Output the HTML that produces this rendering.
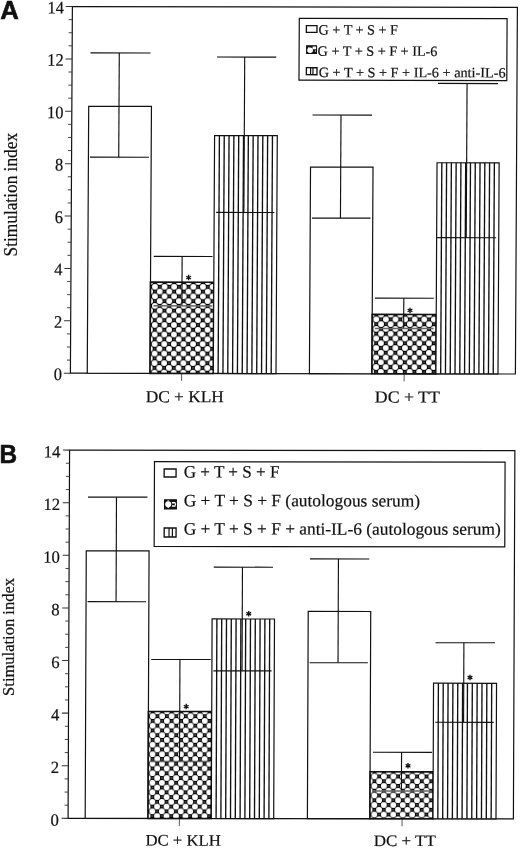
<!DOCTYPE html>
<html><head><meta charset="utf-8"><title>Stimulation index</title>
<style>html,body{margin:0;padding:0;background:#fff;}body{width:520px;height:849px;overflow:hidden;font-family:"Liberation Serif",serif;}svg{display:block;will-change:transform;filter:grayscale(1);}</style></head><body>
<svg width="520" height="849" viewBox="0 0 520 849">
<rect width="520" height="849" fill="#fff"/>
<defs><pattern id="cpA0" patternUnits="userSpaceOnUse" x="149.7" y="281.86" width="9.6" height="9.54"><rect width="9.6" height="9.54" fill="#000"/><circle cx="0" cy="0" r="2.92" fill="#fff"/><circle cx="9.6" cy="0" r="2.92" fill="#fff"/><circle cx="0" cy="9.54" r="2.92" fill="#fff"/><circle cx="9.6" cy="9.54" r="2.92" fill="#fff"/><circle cx="4.8" cy="4.77" r="2.92" fill="#fff"/><rect x="4.3" y="-0.5" width="1" height="1" fill="#e0e0e0"/><rect x="4.3" y="9.04" width="1" height="1" fill="#e0e0e0"/><rect x="-0.5" y="4.27" width="1" height="1" fill="#e0e0e0"/><rect x="9.1" y="4.27" width="1" height="1" fill="#e0e0e0"/></pattern><pattern id="cpA1" patternUnits="userSpaceOnUse" x="371.2" y="314.03" width="9.6" height="9.54"><rect width="9.6" height="9.54" fill="#000"/><circle cx="0" cy="0" r="2.92" fill="#fff"/><circle cx="9.6" cy="0" r="2.92" fill="#fff"/><circle cx="0" cy="9.54" r="2.92" fill="#fff"/><circle cx="9.6" cy="9.54" r="2.92" fill="#fff"/><circle cx="4.8" cy="4.77" r="2.92" fill="#fff"/><rect x="4.3" y="-0.5" width="1" height="1" fill="#e0e0e0"/><rect x="4.3" y="9.04" width="1" height="1" fill="#e0e0e0"/><rect x="-0.5" y="4.27" width="1" height="1" fill="#e0e0e0"/><rect x="9.1" y="4.27" width="1" height="1" fill="#e0e0e0"/></pattern><pattern id="cpB0" patternUnits="userSpaceOnUse" x="147.55" y="711.25" width="9.47" height="9.52"><rect width="9.47" height="9.52" fill="#000"/><circle cx="0" cy="0" r="2.95" fill="#fff"/><circle cx="9.47" cy="0" r="2.95" fill="#fff"/><circle cx="0" cy="9.52" r="2.95" fill="#fff"/><circle cx="9.47" cy="9.52" r="2.95" fill="#fff"/><circle cx="4.74" cy="4.76" r="2.95" fill="#fff"/><rect x="4.24" y="-0.5" width="1" height="1" fill="#e0e0e0"/><rect x="4.24" y="9.02" width="1" height="1" fill="#e0e0e0"/><rect x="-0.5" y="4.26" width="1" height="1" fill="#e0e0e0"/><rect x="8.97" y="4.26" width="1" height="1" fill="#e0e0e0"/></pattern><pattern id="cpB1" patternUnits="userSpaceOnUse" x="369.55" y="771.3" width="9.47" height="9.52"><rect width="9.47" height="9.52" fill="#000"/><circle cx="0" cy="0" r="2.95" fill="#fff"/><circle cx="9.47" cy="0" r="2.95" fill="#fff"/><circle cx="0" cy="9.52" r="2.95" fill="#fff"/><circle cx="9.47" cy="9.52" r="2.95" fill="#fff"/><circle cx="4.74" cy="4.76" r="2.95" fill="#fff"/><rect x="4.24" y="-0.5" width="1" height="1" fill="#e0e0e0"/><rect x="4.24" y="9.02" width="1" height="1" fill="#e0e0e0"/><rect x="-0.5" y="4.26" width="1" height="1" fill="#e0e0e0"/><rect x="8.97" y="4.26" width="1" height="1" fill="#e0e0e0"/></pattern></defs>
<g transform="matrix(1 0.00180 -0.00540 1 2.02 -0.13)">
<rect x="70.4" y="6.55" width="445" height="366.65" fill="none" stroke="#111" stroke-width="1.2"/>
<line x1="63.8" y1="373.2" x2="70.4" y2="373.2" stroke="#333" stroke-width="1.05"/>
<text x="62" y="380.1" font-family="'Liberation Serif', serif" font-size="17.6" font-weight="normal" text-anchor="end" fill="#111" textLength="8.18" lengthAdjust="spacingAndGlyphs" stroke="#111" stroke-width="0.2">0</text>
<line x1="66.8" y1="360.11" x2="70.4" y2="360.11" stroke="#3a3a3a" stroke-width="0.95"/>
<line x1="66.8" y1="347.01" x2="70.4" y2="347.01" stroke="#3a3a3a" stroke-width="0.95"/>
<line x1="66.8" y1="333.92" x2="70.4" y2="333.92" stroke="#3a3a3a" stroke-width="0.95"/>
<line x1="63.8" y1="320.82" x2="70.4" y2="320.82" stroke="#333" stroke-width="1.05"/>
<text x="62" y="327.72" font-family="'Liberation Serif', serif" font-size="17.6" font-weight="normal" text-anchor="end" fill="#111" textLength="8.18" lengthAdjust="spacingAndGlyphs" stroke="#111" stroke-width="0.2">2</text>
<line x1="66.8" y1="307.73" x2="70.4" y2="307.73" stroke="#3a3a3a" stroke-width="0.95"/>
<line x1="66.8" y1="294.63" x2="70.4" y2="294.63" stroke="#3a3a3a" stroke-width="0.95"/>
<line x1="66.8" y1="281.54" x2="70.4" y2="281.54" stroke="#3a3a3a" stroke-width="0.95"/>
<line x1="63.8" y1="268.44" x2="70.4" y2="268.44" stroke="#333" stroke-width="1.05"/>
<text x="62" y="275.34" font-family="'Liberation Serif', serif" font-size="17.6" font-weight="normal" text-anchor="end" fill="#111" textLength="8.18" lengthAdjust="spacingAndGlyphs" stroke="#111" stroke-width="0.2">4</text>
<line x1="66.8" y1="255.35" x2="70.4" y2="255.35" stroke="#3a3a3a" stroke-width="0.95"/>
<line x1="66.8" y1="242.25" x2="70.4" y2="242.25" stroke="#3a3a3a" stroke-width="0.95"/>
<line x1="66.8" y1="229.16" x2="70.4" y2="229.16" stroke="#3a3a3a" stroke-width="0.95"/>
<line x1="63.8" y1="216.06" x2="70.4" y2="216.06" stroke="#333" stroke-width="1.05"/>
<text x="62" y="222.96" font-family="'Liberation Serif', serif" font-size="17.6" font-weight="normal" text-anchor="end" fill="#111" textLength="8.18" lengthAdjust="spacingAndGlyphs" stroke="#111" stroke-width="0.2">6</text>
<line x1="66.8" y1="202.97" x2="70.4" y2="202.97" stroke="#3a3a3a" stroke-width="0.95"/>
<line x1="66.8" y1="189.88" x2="70.4" y2="189.88" stroke="#3a3a3a" stroke-width="0.95"/>
<line x1="66.8" y1="176.78" x2="70.4" y2="176.78" stroke="#3a3a3a" stroke-width="0.95"/>
<line x1="63.8" y1="163.69" x2="70.4" y2="163.69" stroke="#333" stroke-width="1.05"/>
<text x="62" y="170.59" font-family="'Liberation Serif', serif" font-size="17.6" font-weight="normal" text-anchor="end" fill="#111" textLength="8.18" lengthAdjust="spacingAndGlyphs" stroke="#111" stroke-width="0.2">8</text>
<line x1="66.8" y1="150.59" x2="70.4" y2="150.59" stroke="#3a3a3a" stroke-width="0.95"/>
<line x1="66.8" y1="137.5" x2="70.4" y2="137.5" stroke="#3a3a3a" stroke-width="0.95"/>
<line x1="66.8" y1="124.4" x2="70.4" y2="124.4" stroke="#3a3a3a" stroke-width="0.95"/>
<line x1="63.8" y1="111.31" x2="70.4" y2="111.31" stroke="#333" stroke-width="1.05"/>
<text x="62" y="118.21" font-family="'Liberation Serif', serif" font-size="17.6" font-weight="normal" text-anchor="end" fill="#111" textLength="16.37" lengthAdjust="spacingAndGlyphs" stroke="#111" stroke-width="0.2">10</text>
<line x1="66.8" y1="98.21" x2="70.4" y2="98.21" stroke="#3a3a3a" stroke-width="0.95"/>
<line x1="66.8" y1="85.12" x2="70.4" y2="85.12" stroke="#3a3a3a" stroke-width="0.95"/>
<line x1="66.8" y1="72.02" x2="70.4" y2="72.02" stroke="#3a3a3a" stroke-width="0.95"/>
<line x1="63.8" y1="58.93" x2="70.4" y2="58.93" stroke="#333" stroke-width="1.05"/>
<text x="62" y="65.83" font-family="'Liberation Serif', serif" font-size="17.6" font-weight="normal" text-anchor="end" fill="#111" textLength="16.37" lengthAdjust="spacingAndGlyphs" stroke="#111" stroke-width="0.2">12</text>
<line x1="66.8" y1="45.83" x2="70.4" y2="45.83" stroke="#3a3a3a" stroke-width="0.95"/>
<line x1="66.8" y1="32.74" x2="70.4" y2="32.74" stroke="#3a3a3a" stroke-width="0.95"/>
<line x1="66.8" y1="19.64" x2="70.4" y2="19.64" stroke="#3a3a3a" stroke-width="0.95"/>
<line x1="63.8" y1="6.55" x2="70.4" y2="6.55" stroke="#333" stroke-width="1.05"/>
<text x="62" y="13.45" font-family="'Liberation Serif', serif" font-size="17.6" font-weight="normal" text-anchor="end" fill="#111" textLength="16.37" lengthAdjust="spacingAndGlyphs" stroke="#111" stroke-width="0.2">14</text>
<line x1="181.65" y1="373.2" x2="181.65" y2="380.7" stroke="#444" stroke-width="0.9"/>
<text x="145.91" y="402.06" font-family="'Liberation Serif', serif" font-size="16.8" font-weight="normal" text-anchor="start" fill="#111" textLength="78" lengthAdjust="spacingAndGlyphs" stroke="#111" stroke-width="0.2">DC + KLH</text>
<rect x="87.25" y="106.33" width="62.75" height="266.87" fill="#fff" stroke="#111" stroke-width="1.2"/>
<line x1="117.55" y1="52.91" x2="117.55" y2="157.14" stroke="#111" stroke-width="1.15"/>
<line x1="88.8" y1="52.91" x2="148.8" y2="52.91" stroke="#111" stroke-width="1.15"/>
<line x1="88.8" y1="157.14" x2="147.8" y2="157.14" stroke="#111" stroke-width="1.15"/>
<rect x="150" y="281.96" width="63.3" height="91.24" fill="url(#cpA0)" stroke="#111" stroke-width="1.6"/>
<line x1="181.5" y1="256.21" x2="181.5" y2="305.71" stroke="#111" stroke-width="1.15"/>
<line x1="153.12" y1="256.21" x2="211.88" y2="256.21" stroke="#111" stroke-width="1.15"/>
<line x1="153.12" y1="305.71" x2="211.88" y2="305.71" stroke="#666" stroke-width="1.5"/>
<line x1="188.08" y1="274.64" x2="188.08" y2="280.14" stroke="#111" stroke-width="1.35"/><line x1="190.47" y1="276.01" x2="185.7" y2="278.76" stroke="#111" stroke-width="1.35"/><line x1="190.47" y1="278.76" x2="185.7" y2="276.01" stroke="#111" stroke-width="1.35"/>
<rect x="213.3" y="135.3" width="62.7" height="237.9" fill="#fff" stroke="#111" stroke-width="1.2"/>
<line x1="218.12" y1="135.3" x2="218.12" y2="373.2" stroke="#111" stroke-width="1.35"/>
<line x1="222.95" y1="135.3" x2="222.95" y2="373.2" stroke="#111" stroke-width="1.35"/>
<line x1="227.77" y1="135.3" x2="227.77" y2="373.2" stroke="#111" stroke-width="1.35"/>
<line x1="232.59" y1="135.3" x2="232.59" y2="373.2" stroke="#111" stroke-width="1.35"/>
<line x1="237.42" y1="135.3" x2="237.42" y2="373.2" stroke="#111" stroke-width="1.35"/>
<line x1="242.24" y1="135.3" x2="242.24" y2="373.2" stroke="#111" stroke-width="1.35"/>
<line x1="247.06" y1="135.3" x2="247.06" y2="373.2" stroke="#111" stroke-width="1.35"/>
<line x1="251.88" y1="135.3" x2="251.88" y2="373.2" stroke="#111" stroke-width="1.35"/>
<line x1="256.71" y1="135.3" x2="256.71" y2="373.2" stroke="#111" stroke-width="1.35"/>
<line x1="261.53" y1="135.3" x2="261.53" y2="373.2" stroke="#111" stroke-width="1.35"/>
<line x1="266.35" y1="135.3" x2="266.35" y2="373.2" stroke="#111" stroke-width="1.35"/>
<line x1="271.18" y1="135.3" x2="271.18" y2="373.2" stroke="#111" stroke-width="1.35"/>
<line x1="243" y1="56.75" x2="243" y2="212.14" stroke="#111" stroke-width="1.15"/>
<line x1="215.28" y1="56.75" x2="274.52" y2="56.75" stroke="#111" stroke-width="1.15"/>
<line x1="215.28" y1="212.14" x2="273.52" y2="212.14" stroke="#111" stroke-width="1.15"/>
<line x1="404.15" y1="373.2" x2="404.15" y2="380.7" stroke="#444" stroke-width="0.9"/>
<text x="374.96" y="401.85" font-family="'Liberation Serif', serif" font-size="16.8" font-weight="normal" text-anchor="start" fill="#111" textLength="65" lengthAdjust="spacingAndGlyphs" stroke="#111" stroke-width="0.2">DC + TT</text>
<rect x="309.4" y="166.62" width="62.5" height="206.58" fill="#fff" stroke="#111" stroke-width="1.2"/>
<line x1="339.6" y1="114.61" x2="339.6" y2="217.64" stroke="#111" stroke-width="1.15"/>
<line x1="311.1" y1="114.61" x2="370.6" y2="114.61" stroke="#111" stroke-width="1.15"/>
<line x1="311.1" y1="217.64" x2="369.6" y2="217.64" stroke="#111" stroke-width="1.15"/>
<rect x="371.9" y="313.83" width="64" height="59.37" fill="url(#cpA1)" stroke="#111" stroke-width="1.6"/>
<line x1="403.4" y1="297.57" x2="403.4" y2="327.84" stroke="#111" stroke-width="1.15"/>
<line x1="374.62" y1="297.57" x2="433.38" y2="297.57" stroke="#111" stroke-width="1.15"/>
<line x1="374.62" y1="327.84" x2="433.38" y2="327.84" stroke="#666" stroke-width="1.5"/>
<line x1="409.66" y1="307.04" x2="409.66" y2="312.54" stroke="#111" stroke-width="1.35"/><line x1="412.04" y1="308.41" x2="407.28" y2="311.16" stroke="#111" stroke-width="1.35"/><line x1="412.04" y1="311.16" x2="407.28" y2="308.41" stroke="#111" stroke-width="1.35"/>
<rect x="435.9" y="162.11" width="62.1" height="211.09" fill="#fff" stroke="#111" stroke-width="1.2"/>
<line x1="440.68" y1="162.11" x2="440.68" y2="373.2" stroke="#111" stroke-width="1.35"/>
<line x1="445.45" y1="162.11" x2="445.45" y2="373.2" stroke="#111" stroke-width="1.35"/>
<line x1="450.23" y1="162.11" x2="450.23" y2="373.2" stroke="#111" stroke-width="1.35"/>
<line x1="455.01" y1="162.11" x2="455.01" y2="373.2" stroke="#111" stroke-width="1.35"/>
<line x1="459.78" y1="162.11" x2="459.78" y2="373.2" stroke="#111" stroke-width="1.35"/>
<line x1="464.56" y1="162.11" x2="464.56" y2="373.2" stroke="#111" stroke-width="1.35"/>
<line x1="469.34" y1="162.11" x2="469.34" y2="373.2" stroke="#111" stroke-width="1.35"/>
<line x1="474.12" y1="162.11" x2="474.12" y2="373.2" stroke="#111" stroke-width="1.35"/>
<line x1="478.89" y1="162.11" x2="478.89" y2="373.2" stroke="#111" stroke-width="1.35"/>
<line x1="483.67" y1="162.11" x2="483.67" y2="373.2" stroke="#111" stroke-width="1.35"/>
<line x1="488.45" y1="162.11" x2="488.45" y2="373.2" stroke="#111" stroke-width="1.35"/>
<line x1="493.22" y1="162.11" x2="493.22" y2="373.2" stroke="#111" stroke-width="1.35"/>
<line x1="465.5" y1="82.79" x2="465.5" y2="236.94" stroke="#111" stroke-width="1.15"/>
<line x1="436.4" y1="82.79" x2="496.4" y2="82.79" stroke="#111" stroke-width="1.15"/>
<line x1="436.4" y1="236.94" x2="495.4" y2="236.94" stroke="#111" stroke-width="1.15"/>
<rect x="297.38" y="17.89" width="207.8" height="61.9" fill="#fff" stroke="#111" stroke-width="1.2"/>
<rect x="304.52" y="25.18" width="10.6" height="6.8" fill="#fff" stroke="#111" stroke-width="1.35"/>
<text x="316.77" y="33.95" font-family="'Liberation Serif', serif" font-size="14.2" font-weight="normal" text-anchor="start" fill="#111" textLength="79.3" lengthAdjust="spacingAndGlyphs" stroke="#111" stroke-width="0.2">G + T + S + F</text>
<rect x="304.83" y="45.37" width="10" height="7.6" fill="#111" stroke="#111" stroke-width="1"/>
<ellipse cx="308.33" cy="49.93" rx="2.9" ry="2.75" fill="#fff"/>
<rect x="310.83" y="46.07" width="3.4" height="2.7" fill="#fff"/>
<rect x="313.13" y="49.78" width="0.8" height="1.7" fill="#ddd"/>
<rect x="306.53" y="46.67" width="1" height="0.9" fill="#ddd"/>
<text x="315.89" y="55.26" font-family="'Liberation Serif', serif" font-size="14.2" font-weight="normal" text-anchor="start" fill="#111" stroke="#111" stroke-width="0.2">G + T + S + F + IL-6</text>
<rect x="304.75" y="67.28" width="10.6" height="7" fill="#fff" stroke="#111" stroke-width="1.35"/>
<line x1="308.99" y1="67.28" x2="308.99" y2="74.28" stroke="#111" stroke-width="1.2"/>
<line x1="311.32" y1="67.28" x2="311.32" y2="74.28" stroke="#111" stroke-width="1.2"/>
<text x="317.15" y="76.65" font-family="'Liberation Serif', serif" font-size="14.2" font-weight="normal" text-anchor="start" fill="#111" textLength="186.8" lengthAdjust="spacingAndGlyphs" stroke="#111" stroke-width="0.2">G + T + S + F + IL-6 + anti-IL-6</text>
</g>
<text x="0.3" y="18.85" font-family="'Liberation Sans', sans-serif" font-size="25.3" font-weight="bold" text-anchor="start" fill="#111" textLength="18.6" lengthAdjust="spacingAndGlyphs" stroke="#111" stroke-width="0.6" stroke-linejoin="round">A</text>
<text transform="translate(17.3 194.7) rotate(-90)" font-family="'Liberation Serif', serif" font-size="18.6" text-anchor="middle" fill="#111" stroke="#111" stroke-width="0.2" textLength="123.5" lengthAdjust="spacingAndGlyphs">Stimulation index</text>
<g transform="matrix(1 0.00110 -0.00400 1 3.27 -0.07)">
<rect x="68.1" y="450.1" width="445.3" height="368.25" fill="none" stroke="#111" stroke-width="1.2"/>
<line x1="61.5" y1="818.35" x2="68.1" y2="818.35" stroke="#333" stroke-width="1.05"/>
<text x="58.9" y="825.75" font-family="'Liberation Serif', serif" font-size="17.2" font-weight="normal" text-anchor="end" fill="#111" textLength="8.34" lengthAdjust="spacingAndGlyphs" stroke="#111" stroke-width="0.2">0</text>
<line x1="64.5" y1="805.2" x2="68.1" y2="805.2" stroke="#3a3a3a" stroke-width="0.95"/>
<line x1="64.5" y1="792.05" x2="68.1" y2="792.05" stroke="#3a3a3a" stroke-width="0.95"/>
<line x1="64.5" y1="778.89" x2="68.1" y2="778.89" stroke="#3a3a3a" stroke-width="0.95"/>
<line x1="61.5" y1="765.74" x2="68.1" y2="765.74" stroke="#333" stroke-width="1.05"/>
<text x="58.9" y="773.14" font-family="'Liberation Serif', serif" font-size="17.2" font-weight="normal" text-anchor="end" fill="#111" textLength="8.34" lengthAdjust="spacingAndGlyphs" stroke="#111" stroke-width="0.2">2</text>
<line x1="64.5" y1="752.59" x2="68.1" y2="752.59" stroke="#3a3a3a" stroke-width="0.95"/>
<line x1="64.5" y1="739.44" x2="68.1" y2="739.44" stroke="#3a3a3a" stroke-width="0.95"/>
<line x1="64.5" y1="726.29" x2="68.1" y2="726.29" stroke="#3a3a3a" stroke-width="0.95"/>
<line x1="61.5" y1="713.14" x2="68.1" y2="713.14" stroke="#333" stroke-width="1.05"/>
<text x="58.9" y="720.54" font-family="'Liberation Serif', serif" font-size="17.2" font-weight="normal" text-anchor="end" fill="#111" textLength="8.34" lengthAdjust="spacingAndGlyphs" stroke="#111" stroke-width="0.2">4</text>
<line x1="64.5" y1="699.98" x2="68.1" y2="699.98" stroke="#3a3a3a" stroke-width="0.95"/>
<line x1="64.5" y1="686.83" x2="68.1" y2="686.83" stroke="#3a3a3a" stroke-width="0.95"/>
<line x1="64.5" y1="673.68" x2="68.1" y2="673.68" stroke="#3a3a3a" stroke-width="0.95"/>
<line x1="61.5" y1="660.53" x2="68.1" y2="660.53" stroke="#333" stroke-width="1.05"/>
<text x="58.9" y="667.93" font-family="'Liberation Serif', serif" font-size="17.2" font-weight="normal" text-anchor="end" fill="#111" textLength="8.34" lengthAdjust="spacingAndGlyphs" stroke="#111" stroke-width="0.2">6</text>
<line x1="64.5" y1="647.38" x2="68.1" y2="647.38" stroke="#3a3a3a" stroke-width="0.95"/>
<line x1="64.5" y1="634.23" x2="68.1" y2="634.23" stroke="#3a3a3a" stroke-width="0.95"/>
<line x1="64.5" y1="621.07" x2="68.1" y2="621.07" stroke="#3a3a3a" stroke-width="0.95"/>
<line x1="61.5" y1="607.92" x2="68.1" y2="607.92" stroke="#333" stroke-width="1.05"/>
<text x="58.9" y="615.32" font-family="'Liberation Serif', serif" font-size="17.2" font-weight="normal" text-anchor="end" fill="#111" textLength="8.34" lengthAdjust="spacingAndGlyphs" stroke="#111" stroke-width="0.2">8</text>
<line x1="64.5" y1="594.77" x2="68.1" y2="594.77" stroke="#3a3a3a" stroke-width="0.95"/>
<line x1="64.5" y1="581.62" x2="68.1" y2="581.62" stroke="#3a3a3a" stroke-width="0.95"/>
<line x1="64.5" y1="568.47" x2="68.1" y2="568.47" stroke="#3a3a3a" stroke-width="0.95"/>
<line x1="61.5" y1="555.31" x2="68.1" y2="555.31" stroke="#333" stroke-width="1.05"/>
<text x="58.9" y="562.71" font-family="'Liberation Serif', serif" font-size="17.2" font-weight="normal" text-anchor="end" fill="#111" textLength="16.68" lengthAdjust="spacingAndGlyphs" stroke="#111" stroke-width="0.2">10</text>
<line x1="64.5" y1="542.16" x2="68.1" y2="542.16" stroke="#3a3a3a" stroke-width="0.95"/>
<line x1="64.5" y1="529.01" x2="68.1" y2="529.01" stroke="#3a3a3a" stroke-width="0.95"/>
<line x1="64.5" y1="515.86" x2="68.1" y2="515.86" stroke="#3a3a3a" stroke-width="0.95"/>
<line x1="61.5" y1="502.71" x2="68.1" y2="502.71" stroke="#333" stroke-width="1.05"/>
<text x="58.9" y="510.11" font-family="'Liberation Serif', serif" font-size="17.2" font-weight="normal" text-anchor="end" fill="#111" textLength="16.68" lengthAdjust="spacingAndGlyphs" stroke="#111" stroke-width="0.2">12</text>
<line x1="64.5" y1="489.56" x2="68.1" y2="489.56" stroke="#3a3a3a" stroke-width="0.95"/>
<line x1="64.5" y1="476.4" x2="68.1" y2="476.4" stroke="#3a3a3a" stroke-width="0.95"/>
<line x1="64.5" y1="463.25" x2="68.1" y2="463.25" stroke="#3a3a3a" stroke-width="0.95"/>
<line x1="61.5" y1="450.1" x2="68.1" y2="450.1" stroke="#333" stroke-width="1.05"/>
<text x="58.9" y="457.5" font-family="'Liberation Serif', serif" font-size="17.2" font-weight="normal" text-anchor="end" fill="#111" textLength="16.68" lengthAdjust="spacingAndGlyphs" stroke="#111" stroke-width="0.2">14</text>
<line x1="179.42" y1="818.35" x2="179.42" y2="825.85" stroke="#444" stroke-width="0.9"/>
<text x="145.51" y="845.51" font-family="'Liberation Serif', serif" font-size="16" font-weight="normal" text-anchor="start" fill="#111" textLength="75.4" lengthAdjust="spacingAndGlyphs" stroke="#111" stroke-width="0.2">DC + KLH</text>
<rect x="85.2" y="550.87" width="62.8" height="267.48" fill="#fff" stroke="#111" stroke-width="1.2"/>
<line x1="115.2" y1="497.08" x2="115.2" y2="601.66" stroke="#111" stroke-width="1.15"/>
<line x1="86.7" y1="497.08" x2="146.2" y2="497.08" stroke="#111" stroke-width="1.15"/>
<line x1="86.7" y1="601.66" x2="145.2" y2="601.66" stroke="#111" stroke-width="1.15"/>
<rect x="148" y="711.4" width="63.3" height="106.95" fill="url(#cpB0)" stroke="#111" stroke-width="1.6"/>
<line x1="179.3" y1="659.37" x2="179.3" y2="761.43" stroke="#111" stroke-width="1.15"/>
<line x1="150.6" y1="659.37" x2="210.1" y2="659.37" stroke="#111" stroke-width="1.15"/>
<line x1="150.6" y1="761.43" x2="210.1" y2="761.43" stroke="#666" stroke-width="1.5"/>
<line x1="185.8" y1="703.72" x2="185.8" y2="709.22" stroke="#111" stroke-width="1.35"/><line x1="188.18" y1="705.1" x2="183.42" y2="707.85" stroke="#111" stroke-width="1.35"/><line x1="188.18" y1="707.85" x2="183.42" y2="705.1" stroke="#111" stroke-width="1.35"/>
<rect x="211.3" y="618.78" width="62.4" height="199.57" fill="#fff" stroke="#111" stroke-width="1.2"/>
<line x1="216.1" y1="618.78" x2="216.1" y2="818.35" stroke="#111" stroke-width="1.35"/>
<line x1="220.9" y1="618.78" x2="220.9" y2="818.35" stroke="#111" stroke-width="1.35"/>
<line x1="225.7" y1="618.78" x2="225.7" y2="818.35" stroke="#111" stroke-width="1.35"/>
<line x1="230.5" y1="618.78" x2="230.5" y2="818.35" stroke="#111" stroke-width="1.35"/>
<line x1="235.3" y1="618.78" x2="235.3" y2="818.35" stroke="#111" stroke-width="1.35"/>
<line x1="240.1" y1="618.78" x2="240.1" y2="818.35" stroke="#111" stroke-width="1.35"/>
<line x1="244.9" y1="618.78" x2="244.9" y2="818.35" stroke="#111" stroke-width="1.35"/>
<line x1="249.7" y1="618.78" x2="249.7" y2="818.35" stroke="#111" stroke-width="1.35"/>
<line x1="254.5" y1="618.78" x2="254.5" y2="818.35" stroke="#111" stroke-width="1.35"/>
<line x1="259.3" y1="618.78" x2="259.3" y2="818.35" stroke="#111" stroke-width="1.35"/>
<line x1="264.1" y1="618.78" x2="264.1" y2="818.35" stroke="#111" stroke-width="1.35"/>
<line x1="268.9" y1="618.78" x2="268.9" y2="818.35" stroke="#111" stroke-width="1.35"/>
<line x1="241.45" y1="566.99" x2="241.45" y2="670.66" stroke="#111" stroke-width="1.15"/>
<line x1="212.78" y1="566.99" x2="272.02" y2="566.99" stroke="#111" stroke-width="1.15"/>
<line x1="212.78" y1="670.66" x2="271.02" y2="670.66" stroke="#111" stroke-width="1.15"/>
<line x1="247.93" y1="610.8" x2="247.93" y2="616.3" stroke="#111" stroke-width="1.35"/><line x1="250.31" y1="612.18" x2="245.55" y2="614.93" stroke="#111" stroke-width="1.35"/><line x1="250.31" y1="614.93" x2="245.55" y2="612.18" stroke="#111" stroke-width="1.35"/>
<line x1="402.07" y1="818.35" x2="402.07" y2="825.85" stroke="#444" stroke-width="0.9"/>
<text x="373.86" y="845.66" font-family="'Liberation Serif', serif" font-size="16" font-weight="normal" text-anchor="start" fill="#111" textLength="62" lengthAdjust="spacingAndGlyphs" stroke="#111" stroke-width="0.2">DC + TT</text>
<rect x="307.4" y="611.16" width="62.5" height="207.19" fill="#fff" stroke="#111" stroke-width="1.2"/>
<line x1="337.4" y1="558.63" x2="337.4" y2="662.45" stroke="#111" stroke-width="1.15"/>
<line x1="309" y1="558.63" x2="368.2" y2="558.63" stroke="#111" stroke-width="1.15"/>
<line x1="309" y1="662.45" x2="367.2" y2="662.45" stroke="#111" stroke-width="1.15"/>
<rect x="369.9" y="771.45" width="63.1" height="46.9" fill="url(#cpB1)" stroke="#111" stroke-width="1.6"/>
<line x1="401.3" y1="751.93" x2="401.3" y2="790.7" stroke="#111" stroke-width="1.15"/>
<line x1="372.7" y1="751.93" x2="431.7" y2="751.93" stroke="#111" stroke-width="1.15"/>
<line x1="372.7" y1="790.7" x2="431.7" y2="790.7" stroke="#666" stroke-width="1.5"/>
<line x1="407.79" y1="762.63" x2="407.79" y2="768.13" stroke="#111" stroke-width="1.35"/><line x1="410.17" y1="764" x2="405.41" y2="766.75" stroke="#111" stroke-width="1.35"/><line x1="410.17" y1="766.75" x2="405.41" y2="764" stroke="#111" stroke-width="1.35"/>
<rect x="433" y="682.81" width="63" height="135.54" fill="#fff" stroke="#111" stroke-width="1.2"/>
<line x1="437.85" y1="682.81" x2="437.85" y2="818.35" stroke="#111" stroke-width="1.35"/>
<line x1="442.69" y1="682.81" x2="442.69" y2="818.35" stroke="#111" stroke-width="1.35"/>
<line x1="447.54" y1="682.81" x2="447.54" y2="818.35" stroke="#111" stroke-width="1.35"/>
<line x1="452.38" y1="682.81" x2="452.38" y2="818.35" stroke="#111" stroke-width="1.35"/>
<line x1="457.23" y1="682.81" x2="457.23" y2="818.35" stroke="#111" stroke-width="1.35"/>
<line x1="462.08" y1="682.81" x2="462.08" y2="818.35" stroke="#111" stroke-width="1.35"/>
<line x1="466.92" y1="682.81" x2="466.92" y2="818.35" stroke="#111" stroke-width="1.35"/>
<line x1="471.77" y1="682.81" x2="471.77" y2="818.35" stroke="#111" stroke-width="1.35"/>
<line x1="476.62" y1="682.81" x2="476.62" y2="818.35" stroke="#111" stroke-width="1.35"/>
<line x1="481.46" y1="682.81" x2="481.46" y2="818.35" stroke="#111" stroke-width="1.35"/>
<line x1="486.31" y1="682.81" x2="486.31" y2="818.35" stroke="#111" stroke-width="1.35"/>
<line x1="491.15" y1="682.81" x2="491.15" y2="818.35" stroke="#111" stroke-width="1.35"/>
<line x1="463.2" y1="642.3" x2="463.2" y2="721.84" stroke="#111" stroke-width="1.15"/>
<line x1="434.8" y1="642.3" x2="494.3" y2="642.3" stroke="#111" stroke-width="1.15"/>
<line x1="434.8" y1="721.84" x2="493.3" y2="721.84" stroke="#111" stroke-width="1.15"/>
<line x1="469.44" y1="674.31" x2="469.44" y2="679.81" stroke="#111" stroke-width="1.35"/><line x1="471.82" y1="675.68" x2="467.06" y2="678.43" stroke="#111" stroke-width="1.35"/><line x1="471.82" y1="678.43" x2="467.06" y2="675.68" stroke="#111" stroke-width="1.35"/>
<rect x="153.07" y="461.6" width="350.6" height="84.8" fill="#fff" stroke="#111" stroke-width="1.2"/>
<rect x="162.8" y="468.89" width="11.9" height="8" fill="#fff" stroke="#111" stroke-width="1.35"/>
<text x="182.34" y="477.37" font-family="'Liberation Serif', serif" font-size="17.3" font-weight="normal" text-anchor="start" fill="#111" textLength="95.8" lengthAdjust="spacingAndGlyphs" stroke="#111" stroke-width="0.2">G + T + S + F</text>
<rect x="163.23" y="499.59" width="12" height="9.2" fill="#111" stroke="#111" stroke-width="1"/>
<circle cx="166.95" cy="504.19" r="3.05" fill="#fff"/>
<path d="M165.85 500.39 l2.2 0 l-1.1 1.3z M165.85 507.99 l2.2 0 l-1.1 -1.3z" fill="#fff"/>
<rect x="170.67" y="501.8" width="3.6" height="1.6" fill="#fff"/>
<rect x="170.67" y="505.11" width="3.6" height="1.6" fill="#fff"/>
<rect x="173.63" y="503.09" width="1.2" height="2.21" fill="#fff"/>
<text x="182.45" y="506.07" font-family="'Liberation Serif', serif" font-size="17.3" font-weight="normal" text-anchor="start" fill="#111" textLength="236.3" lengthAdjust="spacingAndGlyphs" stroke="#111" stroke-width="0.2">G + T + S + F (autologous serum)</text>
<rect x="163.04" y="527.89" width="11.9" height="9" fill="#fff" stroke="#111" stroke-width="1.35"/>
<line x1="167.92" y1="527.89" x2="167.92" y2="536.89" stroke="#111" stroke-width="1.2"/>
<line x1="171.25" y1="527.89" x2="171.25" y2="536.89" stroke="#111" stroke-width="1.2"/>
<text x="182.56" y="534.37" font-family="'Liberation Serif', serif" font-size="17.3" font-weight="normal" text-anchor="start" fill="#111" textLength="317" lengthAdjust="spacingAndGlyphs" stroke="#111" stroke-width="0.2">G + T + S + F + anti-IL-6 (autologous serum)</text>
</g>
<text x="-0.4" y="462.6" font-family="'Liberation Sans', sans-serif" font-size="25.2" font-weight="bold" text-anchor="start" fill="#111" textLength="17.6" lengthAdjust="spacingAndGlyphs" stroke="#111" stroke-width="0.6" stroke-linejoin="round">B</text>
<text transform="translate(14.3 636.9) rotate(-90)" font-family="'Liberation Serif', serif" font-size="17" text-anchor="middle" fill="#111" stroke="#111" stroke-width="0.2" textLength="118" lengthAdjust="spacingAndGlyphs">Stimulation index</text>
</svg></body></html>
